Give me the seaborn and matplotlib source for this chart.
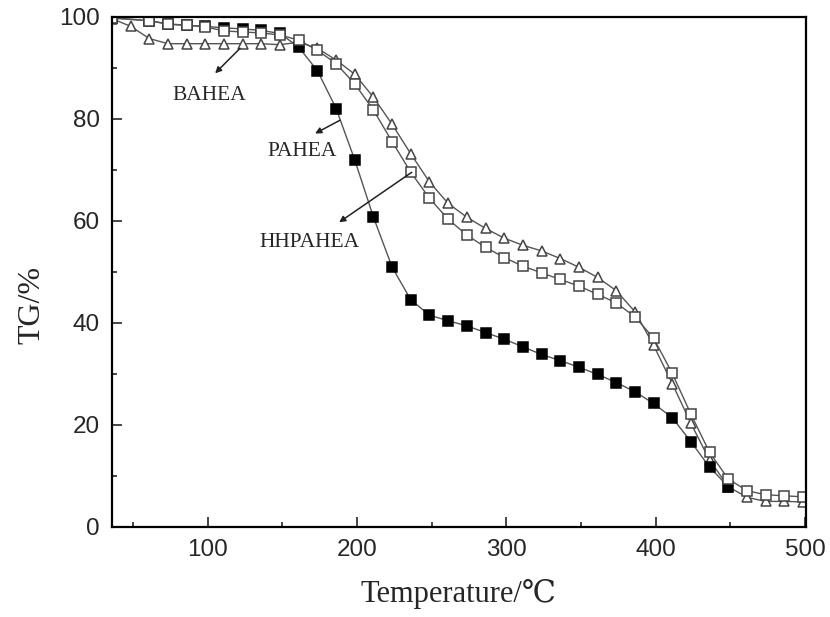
import numpy as np
import pandas as pd
import matplotlib
matplotlib.use('Agg')
import matplotlib.pyplot as plt
import seaborn as sns

# temperatures (degC) and TG (%)
temp_bahea = [36, 48.5, 61, 73.5, 86, 98.5, 111, 123.5, 136, 148.5, 161, 173.5,
              186, 198.5, 211, 223.5, 236, 248.5, 261, 273.5, 286, 298.5, 311, 323.5,
              336, 348.5, 361, 373.5, 386, 398.5, 411, 423.5, 436, 448.5, 461, 473.5,
              486, 498.5]
tg_bahea = [99.6, 98.1, 95.7, 94.7, 94.7, 94.7, 94.7, 94.7, 94.7, 94.5, 95.0, 93.8,
            91.5, 88.7, 84.2, 78.9, 73.1, 67.6, 63.4, 60.7, 58.5, 56.6, 55.2, 54.1,
            52.6, 50.9, 48.9, 46.3, 42.2, 35.6, 28.1, 20.3, 13.1, 7.9, 5.8, 5.0,
            5.0, 4.9]

temp_hhpahea = [36, 61, 73.5, 86, 98.5, 111, 123.5, 136, 148.5, 161, 173.5,
                186, 198.5, 211, 223.5, 236, 248.5, 261, 273.5, 286, 298.5, 311, 323.5,
                336, 348.5, 361, 373.5, 386, 398.5, 411, 423.5, 436, 448.5, 461, 473.5,
                486, 498.5]
tg_hhpahea = [99.8, 99.2, 98.5, 98.3, 98.0, 97.2, 97.0, 96.8, 96.4, 95.4, 93.4,
              90.8, 86.8, 81.7, 75.5, 69.5, 64.4, 60.3, 57.2, 54.8, 52.8, 51.1, 49.8,
              48.5, 47.2, 45.6, 43.9, 41.2, 37.0, 30.1, 22.1, 14.6, 9.4, 7.1, 6.3,
              6.1, 5.9]

temp_pahea = [36, 61, 73.5, 86, 98.5, 111, 123.5, 136, 148.5, 161, 173.5,
              186, 198.5, 211, 223.5, 236, 248.5, 261, 273.5, 286, 298.5, 311, 323.5,
              336, 348.5, 361, 373.5, 386, 398.5, 411, 423.5, 436, 448.5]
tg_pahea = [99.7, 99.2, 98.6, 98.3, 98.1, 97.8, 97.6, 97.3, 96.7, 94.0, 89.4,
            82.0, 71.9, 60.7, 50.9, 44.5, 41.5, 40.4, 39.4, 38.1, 36.8, 35.3, 33.8,
            32.6, 31.3, 29.9, 28.3, 26.5, 24.2, 21.4, 16.7, 11.7, 7.9]

sns.set_style('ticks')
plt.rcParams['font.family'] = ['Liberation Sans', 'DejaVu Sans']

fig = plt.figure(figsize=(8.3, 6.17), dpi=100)
ax = fig.add_axes([0.135, 0.146, 0.836, 0.827])

line_kw = dict(color='#555555', linewidth=1.0, markersize=7.5, markeredgewidth=1.1)

# draw order: triangles, filled squares, open squares
sns.lineplot(x=temp_bahea, y=tg_bahea, ax=ax, marker='^', markerfacecolor='white',
             markeredgecolor='#444444', sort=False, **line_kw)
sns.lineplot(x=temp_pahea, y=tg_pahea, ax=ax, marker='s', markerfacecolor='black',
             markeredgecolor='black', sort=False, **line_kw)
sns.lineplot(x=temp_hhpahea, y=tg_hhpahea, ax=ax, marker='s', markerfacecolor='white',
             markeredgecolor='#444444', sort=False, **line_kw)

ax.set_xlim(36, 500.5)
ax.set_ylim(0, 100)
ax.set_xticks([100, 200, 300, 400, 500])
ax.set_xticks([50, 150, 250, 350, 450], minor=True)
ax.set_yticks([0, 20, 40, 60, 80, 100])
ax.set_yticks([10, 30, 50, 70, 90], minor=True)
ax.tick_params(which='both', direction='in', top=False, right=False, width=1.2,
               labelsize=17.5, pad=9)
ax.tick_params(which='major', length=7)
ax.tick_params(which='minor', length=3.6)
for sp in ax.spines.values():
    sp.set_linewidth(1.6)
    sp.set_color('black')

serif = ['Liberation Serif', 'DejaVu Serif']
ax.set_xlabel('Temperature/℃', fontsize=22, family=serif)
ax.set_ylabel('TG/%', fontsize=23, family=serif)
ax.xaxis.set_label_coords(0.5, -0.102)
ax.yaxis.set_label_coords(-0.095, 0.435)

arrow = dict(arrowstyle='-|>', color='#222222', lw=1.1, mutation_scale=9,
             shrinkA=0, shrinkB=0)
ax.annotate('', xy=(105, 88.9), xytext=(121.7, 93.8), arrowprops=arrow)
ax.annotate('', xy=(171.9, 77.1), xytext=(188.6, 79.7), arrowprops=arrow)
ax.annotate('', xy=(188, 59.7), xytext=(236.6, 69.5), arrowprops=arrow)
ax.text(101.3, 84.6, 'BAHEA', fontsize=15.5, family=serif, ha='center', va='center')
ax.text(163.5, 73.5, 'PAHEA', fontsize=15.5, family=serif, ha='center', va='center')
ax.text(168.2, 55.8, 'HHPAHEA', fontsize=15.5, family=serif, ha='center', va='center')

fig.savefig('out.png', dpi=100)
